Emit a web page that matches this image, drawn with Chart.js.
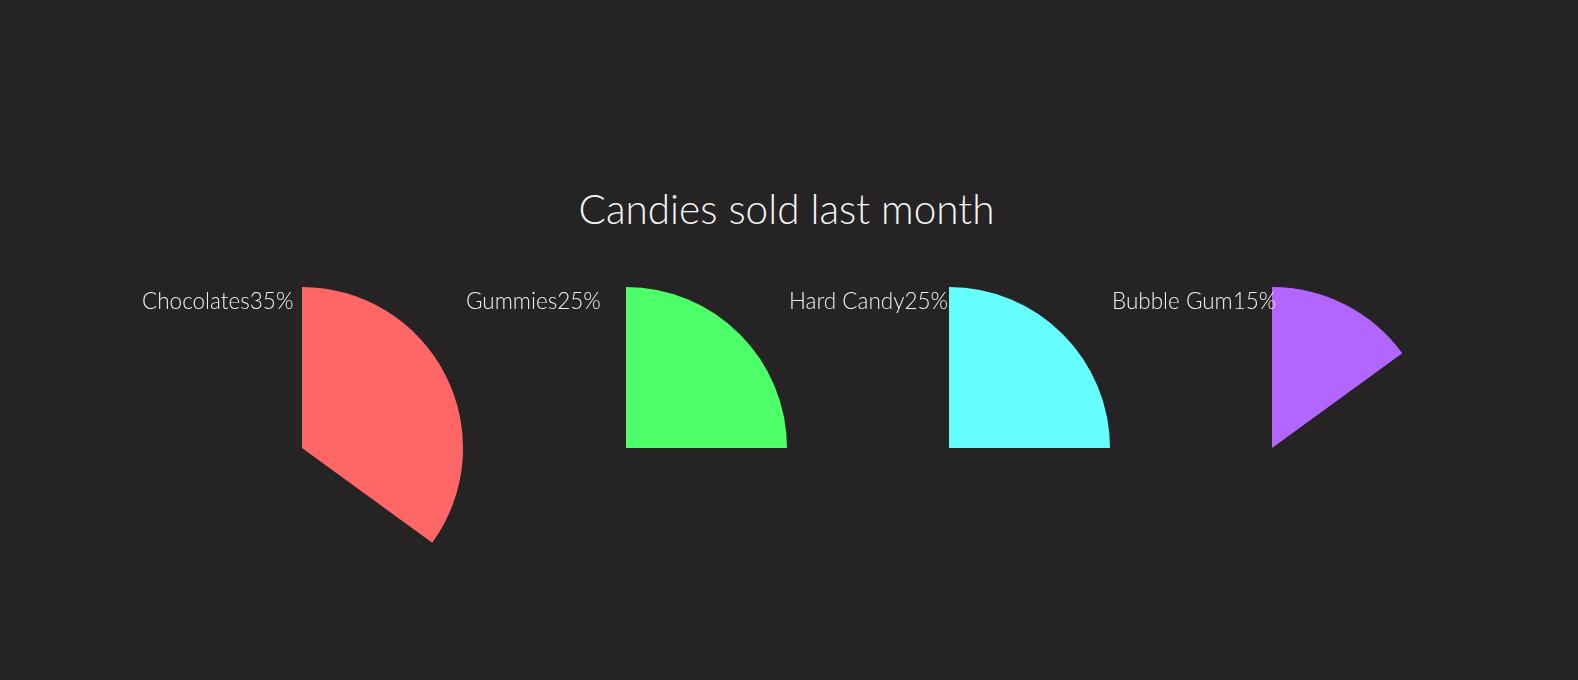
<!DOCTYPE html>
<html>
<head>
<meta charset="utf-8">
<script src="https://cdn.jsdelivr.net/npm/chart.js@4.4.0/dist/chart.umd.min.js"></script>
<style>
  html, body { margin: 0; padding: 0; background: #262324; width: 1578px; height: 680px; overflow: hidden; }
  #title {
    position: absolute; left: 0; top: 183px; width: 1573px; text-align: center;
    color: #f4f4f4; font-family: Lato, sans-serif; font-weight: 300; font-size: 40.5px; line-height: 52px;
  }
  .pie { position: absolute; top: 287px; }
</style>
</head>
<body>
<div id="title">Candies sold last month</div>
<canvas class="pie" id="pie0" width="322" height="322" style="left:141px"></canvas>
<canvas class="pie" id="pie1" width="322" height="322" style="left:465px"></canvas>
<canvas class="pie" id="pie2" width="322" height="322" style="left:788px"></canvas>
<canvas class="pie" id="pie3" width="322" height="322" style="left:1111px"></canvas>
<script>
// dados
const candies = ['Chocolates', 'Gummies', 'Hard Candy', 'Bubble Gum'];
const shares = [35, 25, 25, 15];
const colors = ['#ff6666', '#4dff69', '#66ffff', '#b366ff'];

// rótulo no canto superior esquerdo de cada torta
const labelPlugin = {
    id: 'candyLabel',
    afterDatasetsDraw(chart, args, opts) {
        const ctx = chart.ctx;
        ctx.save();
        ctx.font = '300 22.5px Lato, sans-serif';
        ctx.fillStyle = '#f0f0f0';
        ctx.textAlign = 'left';
        ctx.textBaseline = 'alphabetic';
        ctx.fillText(opts.text, 1, 22);
        ctx.restore();
    }
};

candies.forEach((name, i) => {
    const ctx = document.getElementById('pie' + i).getContext('2d');
    new Chart(ctx, {
        type: 'pie',
        data: {
            labels: [name, ''],
            datasets: [{
                data: [shares[i], 100 - shares[i]],
                backgroundColor: [colors[i], 'rgba(0,0,0,0)'],
                borderWidth: 0
            }]
        },
        options: {
            responsive: false,
            animation: false,
            events: [],
            layout: { padding: 0 },
            plugins: {
                legend: { display: false },
                tooltip: { enabled: false },
                candyLabel: { text: name + shares[i] + '%' }
            }
        },
        plugins: [labelPlugin]
    });
});
</script>
</body>
</html>
